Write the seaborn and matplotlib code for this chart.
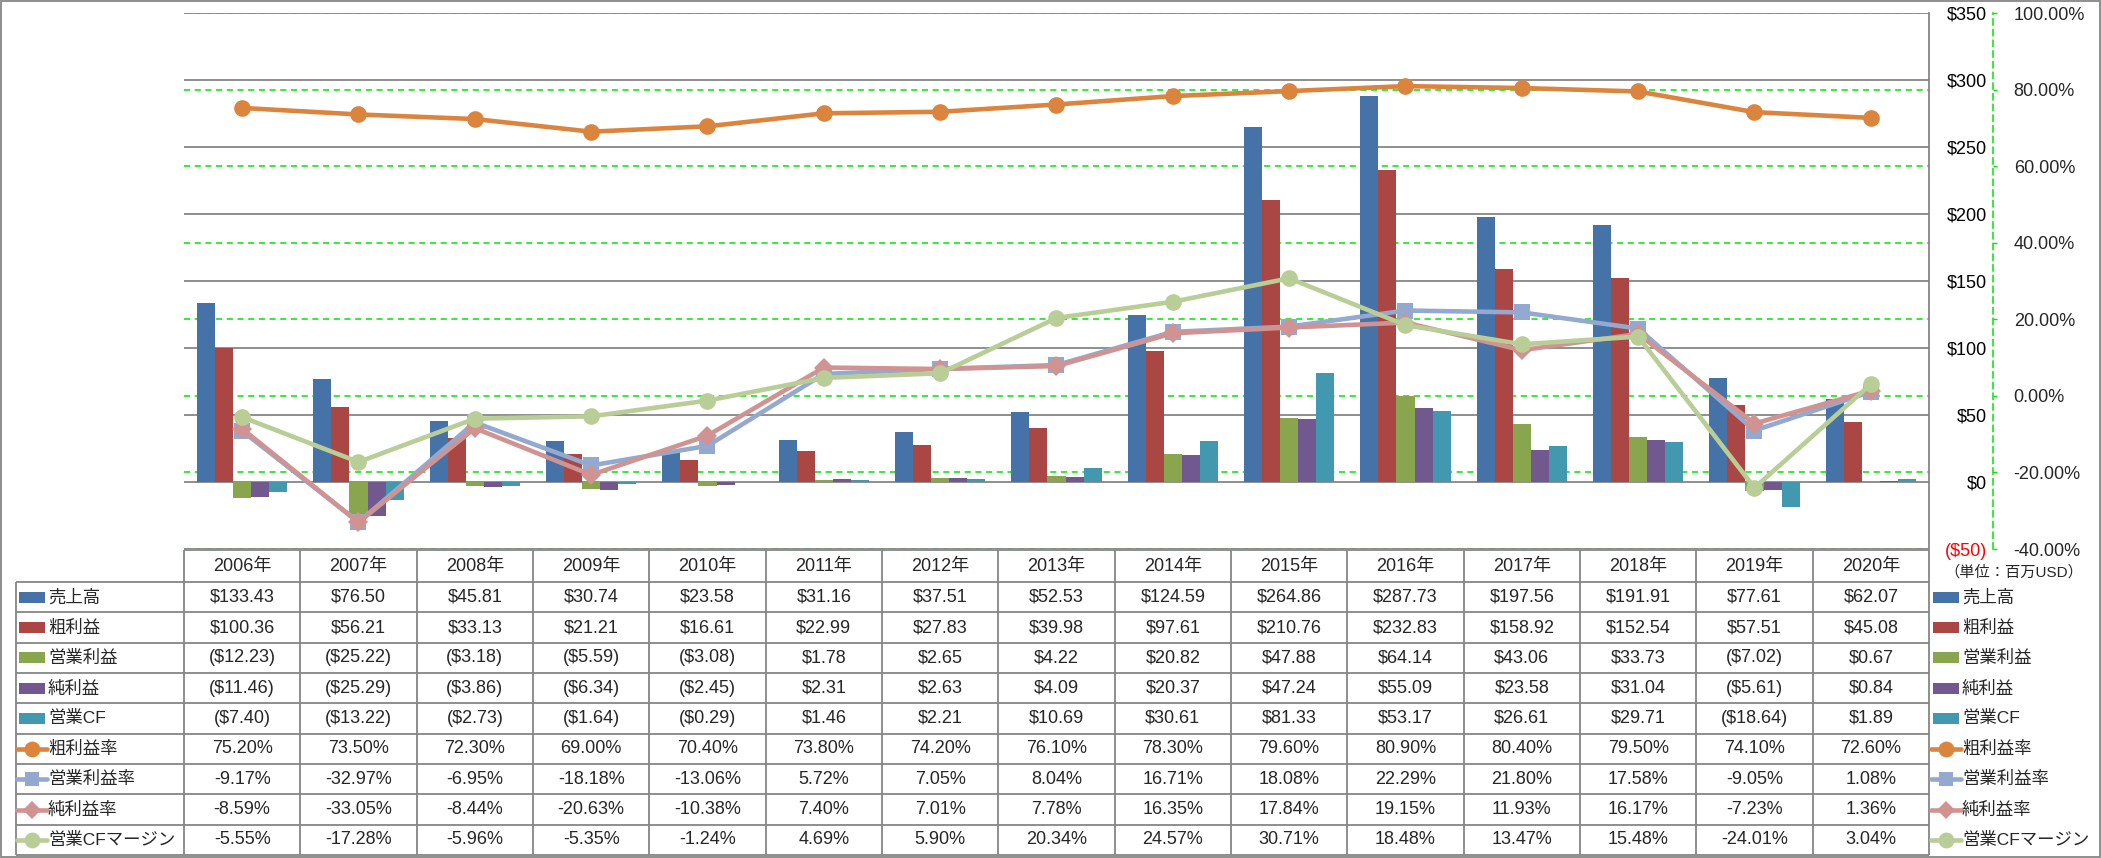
import numpy as np
import pandas as pd
import matplotlib
matplotlib.use('Agg')
import matplotlib.pyplot as plt
import seaborn as sns
from matplotlib.patches import Rectangle

# data
years = ['2006年', '2007年', '2008年', '2009年', '2010年', '2011年', '2012年', '2013年',
         '2014年', '2015年', '2016年', '2017年', '2018年', '2019年', '2020年']

sales = [133.43, 76.50, 45.81, 30.74, 23.58, 31.16, 37.51, 52.53, 124.59, 264.86, 287.73, 197.56, 191.91, 77.61, 62.07]
gross = [100.36, 56.21, 33.13, 21.21, 16.61, 22.99, 27.83, 39.98, 97.61, 210.76, 232.83, 158.92, 152.54, 57.51, 45.08]
op_income = [-12.23, -25.22, -3.18, -5.59, -3.08, 1.78, 2.65, 4.22, 20.82, 47.88, 64.14, 43.06, 33.73, -7.02, 0.67]
net_income = [-11.46, -25.29, -3.86, -6.34, -2.45, 2.31, 2.63, 4.09, 20.37, 47.24, 55.09, 23.58, 31.04, -5.61, 0.84]
op_cf = [-7.40, -13.22, -2.73, -1.64, -0.29, 1.46, 2.21, 10.69, 30.61, 81.33, 53.17, 26.61, 29.71, -18.64, 1.89]

gross_margin = [75.20, 73.50, 72.30, 69.00, 70.40, 73.80, 74.20, 76.10, 78.30, 79.60, 80.90, 80.40, 79.50, 74.10, 72.60]
op_margin = [-9.17, -32.97, -6.95, -18.18, -13.06, 5.72, 7.05, 8.04, 16.71, 18.08, 22.29, 21.80, 17.58, -9.05, 1.08]
net_margin = [-8.59, -33.05, -8.44, -20.63, -10.38, 7.40, 7.01, 7.78, 16.35, 17.84, 19.15, 11.93, 16.17, -7.23, 1.36]
cf_margin = [-5.55, -17.28, -5.96, -5.35, -1.24, 4.69, 5.90, 20.34, 24.57, 30.71, 18.48, 13.47, 15.48, -24.01, 3.04]

bar_names = ['売上高', '粗利益', '営業利益', '純利益', '営業CF']
bar_values = [sales, gross, op_income, net_income, op_cf]
bar_colors = ['#4572A7', '#AA4643', '#89A54E', '#71588F', '#4198AF']

line_names = ['粗利益率', '営業利益率', '純利益率', '営業CFマージン']
line_values = [gross_margin, op_margin, net_margin, cf_margin]
line_colors = ['#DB843D', '#93A9CF', '#D19392', '#B9CD96']
line_markers = ['o', 's', 'D', 'o']
line_msize = [12, 11, 10, 12]

usd_ticks = [-50, 0, 50, 100, 150, 200, 250, 300, 350]
pct_ticks = [-40, -20, 0, 20, 40, 60, 80, 100]

sns.set_style('white')
plt.rcParams['font.family'] = ['Liberation Sans', 'Noto Sans CJK JP', 'DejaVu Sans']

W, H = 2101, 858
fig = plt.figure(figsize=(W / 100, H / 100), dpi=100)

GRAY = '#868686'
GREEN = '#00E600'
RED = '#FF0000'

# plot area (pixels)
L, R, T, B = 184, 1929, 13, 549
rect = [L / W, (H - B) / H, (R - L) / W, (B - T) / H]
ax = fig.add_axes(rect)

df = pd.DataFrame({
    'year': years * len(bar_names),
    'metric': [n for n in bar_names for _ in years],
    'value': [v for vals in bar_values for v in vals],
})

sns.barplot(data=df, x='year', y='value', hue='metric', order=years, hue_order=bar_names,
            palette=bar_colors, width=0.776, saturation=1, linewidth=0, legend=False, ax=ax)

ax_grid = ax.twinx()
ax_lines = ax.twinx()
ax_grid.set_zorder(0)
ax.set_zorder(1)
ax_lines.set_zorder(2)
ax.patch.set_visible(False)
ax_lines.patch.set_visible(False)

ax.set_xlim(-0.5, 14.5)
ax.set_ylim(-50, 350)
ax.set_xticks([])
ax.set_xlabel('')
ax.set_ylabel('')
ax.yaxis.set_ticks_position('right')
ax.yaxis.set_label_position('right')
ax.set_yticks(usd_ticks)
ax.set_yticklabels([f'${v}' if v >= 0 else f'(${-v})' for v in usd_ticks])
ax.tick_params(axis='y', length=0, pad=41.8, labelsize=13)
for v, lbl in zip(usd_ticks, ax.get_yticklabels()):
    lbl.set_ha('right')
    lbl.set_color(RED if v < 0 else 'black')
ax.yaxis.grid(True, color=GRAY, lw=1.3)
ax.set_axisbelow(True)
for s in ['left', 'top', 'bottom']:
    ax.spines[s].set_visible(False)
ax.spines['right'].set_color(GRAY)
ax.spines['right'].set_linewidth(1.3)

# percent axis with green grid
ax_grid.set_ylim(-40, 100)
ax_grid.set_yticks(pct_ticks)
ax_grid.set_yticklabels([f'{v:.2f}%' for v in pct_ticks])
ax_grid.tick_params(axis='y', direction='out', length=3, width=1, color=GREEN, pad=12, labelsize=13)
for v, lbl in zip(pct_ticks, ax_grid.get_yticklabels()):
    lbl.set_color(RED if v < 0 else 'black')
ax_grid.yaxis.grid(True, color=GREEN, ls=(0, (4, 3)), lw=1.1)
for s in ['left', 'top', 'bottom']:
    ax_grid.spines[s].set_visible(False)
ax_grid.spines['right'].set_position(('outward', 46))
ax_grid.spines['right'].set_color(GREEN)
ax_grid.spines['right'].set_linestyle((0, (4, 3)))
ax_grid.spines['right'].set_linewidth(1.1)

# ratio lines
ax_lines.set_ylim(-40, 100)
xpos = np.arange(len(years))
for name, vals, c, m, ms in zip(line_names, line_values, line_colors, line_markers, line_msize):
    sns.lineplot(x=xpos, y=vals, color=c, marker=m, markersize=ms, markeredgewidth=0,
                 lw=3.3, ax=ax_lines, legend=False)
ax_lines.set_xlim(-0.5, 14.5)
ax_lines.axis('off')

# data table drawn in pixel coordinates
tab = fig.add_axes([0, 0, 1, 1])
tab.set_xlim(0, W)
tab.set_ylim(H, 0)
tab.axis('off')
tab.patch.set_visible(False)

col_w = (R - L) / len(years)
head_top, head_bot, tab_bot = 550, 582, 855
row_h = (tab_bot - head_bot) / 9
lab_left = 16

lkw = dict(color=GRAY, lw=1.3, solid_capstyle='butt')
tab.plot([L, R], [head_top, head_top], **lkw)
for i in range(10):
    y = head_bot + i * row_h
    tab.plot([lab_left, R], [y, y], **lkw)
tab.plot([lab_left, lab_left], [head_bot, tab_bot], **lkw)
for j in range(len(years) + 1):
    x = L + j * col_w
    tab.plot([x, x], [head_top, tab_bot], **lkw)

for j, yr in enumerate(years):
    tab.text(L + (j + 0.5) * col_w, (head_top + head_bot) / 2, yr, ha='center', va='center', fontsize=13)


def money(v):
    return f'${v:,.2f}' if v >= 0 else f'(${-v:,.2f})'


rows = [(n, vals, c, None, 0, money) for n, vals, c in zip(bar_names, bar_values, bar_colors)]
rows += [(n, vals, c, m, ms, lambda v: f'{v:.2f}%')
         for n, vals, c, m, ms in zip(line_names, line_values, line_colors, line_markers, line_msize)]

for i, (name, vals, c, m, ms, fmt) in enumerate(rows):
    yc = head_bot + (i + 0.5) * row_h
    for j, v in enumerate(vals):
        tab.text(L + (j + 0.5) * col_w, yc, fmt(v), ha='center', va='center', fontsize=13)
    for x0 in (lab_left + 1, 1931):
        if m is None:
            tab.add_patch(Rectangle((x0 + 2, yc - 5.5), 26, 11, color=c, lw=0))
        else:
            tab.plot([x0, x0 + 30], [yc, yc], color=c, lw=3.3)
            tab.plot([x0 + 15], [yc], marker=m, color=c, markersize=ms * 0.95, markeredgewidth=0)
        tab.text(x0 + 31, yc, name, ha='left', va='center', fontsize=12.5)

tab.text(1944, 572, '（単位：百万USD）', ha='left', va='center', fontsize=11)

# outer border
tab.add_patch(Rectangle((1, 1), W - 2, H - 2, fill=False, edgecolor=GRAY, lw=1.3))

fig.savefig('out.png', dpi=100)
